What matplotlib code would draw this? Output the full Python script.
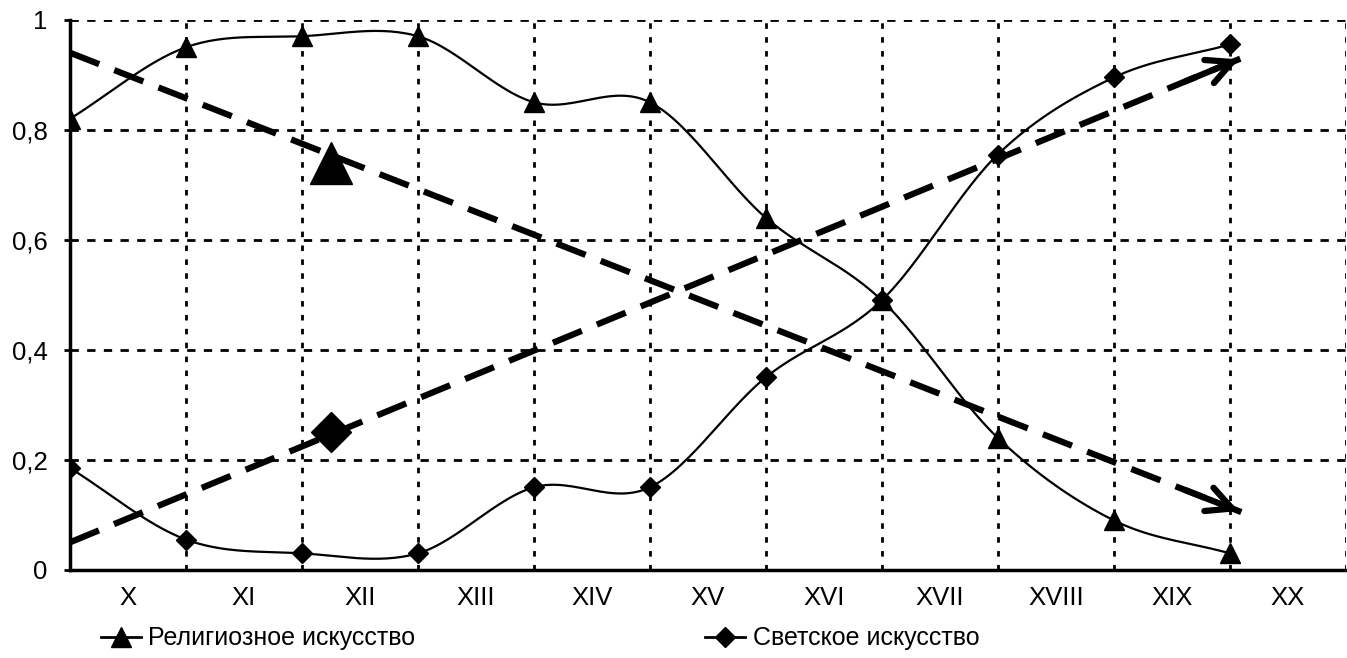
import numpy as np
import matplotlib
matplotlib.use("Agg")
import matplotlib.pyplot as plt
from matplotlib.lines import Line2D

plt.rcParams['font.family'] = ['Liberation Sans', 'DejaVu Sans']

centuries = ["X", "XI", "XII", "XIII", "XIV", "XV", "XVI", "XVII", "XVIII", "XIX", "XX"]
religious = [0.82, 0.95, 0.97, 0.97, 0.85, 0.85, 0.64, 0.49, 0.24, 0.09, 0.03]
secular = [0.185, 0.055, 0.03, 0.03, 0.15, 0.15, 0.35, 0.49, 0.755, 0.895, 0.955]

# trend lines (start, end) and the big markers placed near them
trend_x = [0.0, 10.1]
religious_trend = [0.94, 0.105]
secular_trend = [0.05, 0.93]
marker_x = 2.25
y_ticks = [0, 0.2, 0.4, 0.6, 0.8, 1.0]
y_labels = ["0", "0,2", "0,4", "0,6", "0,8", "1"]


def smooth(y, n=30):
    # Catmull-Rom spline through the points
    y = np.asarray(y, dtype=float)
    p = np.concatenate([[2 * y[0] - y[1]], y, [2 * y[-1] - y[-2]]])
    xs, ys = [], []
    t = np.linspace(0, 1, n, endpoint=False)
    for i in range(len(y) - 1):
        p0, p1, p2, p3 = p[i], p[i + 1], p[i + 2], p[i + 3]
        v = 0.5 * ((2 * p1) + (-p0 + p2) * t + (2 * p0 - 5 * p1 + 4 * p2 - p3) * t ** 2
                   + (-p0 + 3 * p1 - 3 * p2 + p3) * t ** 3)
        xs.extend(i + t)
        ys.extend(v)
    xs.append(len(y) - 1)
    ys.append(y[-1])
    return np.array(xs), np.array(ys)


fig = plt.figure(figsize=(13.47, 6.58), dpi=100)
ax = fig.add_axes([0.052, 0.134, 0.947, 0.836])

x = np.arange(len(religious))

# grid
for gx in range(1, len(centuries) + 1):
    ax.axvline(gx, color="black", lw=2, ls=(0, (2, 3)), zorder=1)
for gy in y_ticks[1:]:
    ax.axhline(gy, color="black", lw=2, ls=(0, (3, 3)), zorder=1)

sx, sy = smooth(religious)
ax.plot(sx, sy, color="black", lw=1.6, zorder=3)
ax.plot(x, religious, ls="none", marker="^", ms=14, color="black", zorder=4)

sx, sy = smooth(secular)
ax.plot(sx, sy, color="black", lw=1.6, zorder=3)
ax.plot(x, secular, ls="none", marker="D", ms=10.5, color="black", zorder=4)

# dashed trend lines with open arrow heads
for tr in (religious_trend, secular_trend):
    ax.plot(trend_x, tr, color="black", lw=4.5, ls=(0, (5, 2.6)), zorder=2)
    dx = trend_x[1] - trend_x[0]
    dy = tr[1] - tr[0]
    ax.annotate("", xy=(trend_x[1], tr[1]),
                xytext=(trend_x[1] - 0.05 * dx, tr[1] - 0.05 * dy),
                arrowprops=dict(arrowstyle="->", lw=4.5, mutation_scale=45,
                                color="black"), zorder=2)

def on_line(tr, xv):
    return tr[0] + (tr[1] - tr[0]) * (xv - trend_x[0]) / (trend_x[1] - trend_x[0])

ax.plot(marker_x, on_line(religious_trend, marker_x) - 0.015, marker="^", ms=30,
        color="black", zorder=4)
ax.plot(marker_x, on_line(secular_trend, marker_x) + 0.005, marker="D", ms=20,
        color="black", zorder=4)

ax.set_xlim(0, len(centuries))
ax.set_ylim(0, 1)
ax.set_xticks(np.arange(len(centuries)) + 0.5)
ax.set_xticklabels(centuries, fontsize=18.5)
ax.set_yticks(y_ticks)
ax.set_yticklabels(y_labels, fontsize=18.5)
ax.tick_params(axis="x", length=0, pad=12)
ax.tick_params(axis="y", length=4, width=2, pad=12)

for s in ("left", "bottom"):
    ax.spines[s].set_linewidth(2.5)
for s in ("top", "right"):
    ax.spines[s].set_visible(False)

handles = [
    Line2D([], [], color="black", lw=2, marker="^", ms=14),
    Line2D([], [], color="black", lw=2, marker="D", ms=10.5),
]
fig.legend(handles, ["Религиозное искусство", "Светское искусство"],
           loc="center left", bbox_to_anchor=(0.058, 0.03), ncol=2, frameon=False,
           fontsize=18, handlelength=1.6, handletextpad=0.3, columnspacing=11.6)

fig.savefig("out.png", dpi=100)
